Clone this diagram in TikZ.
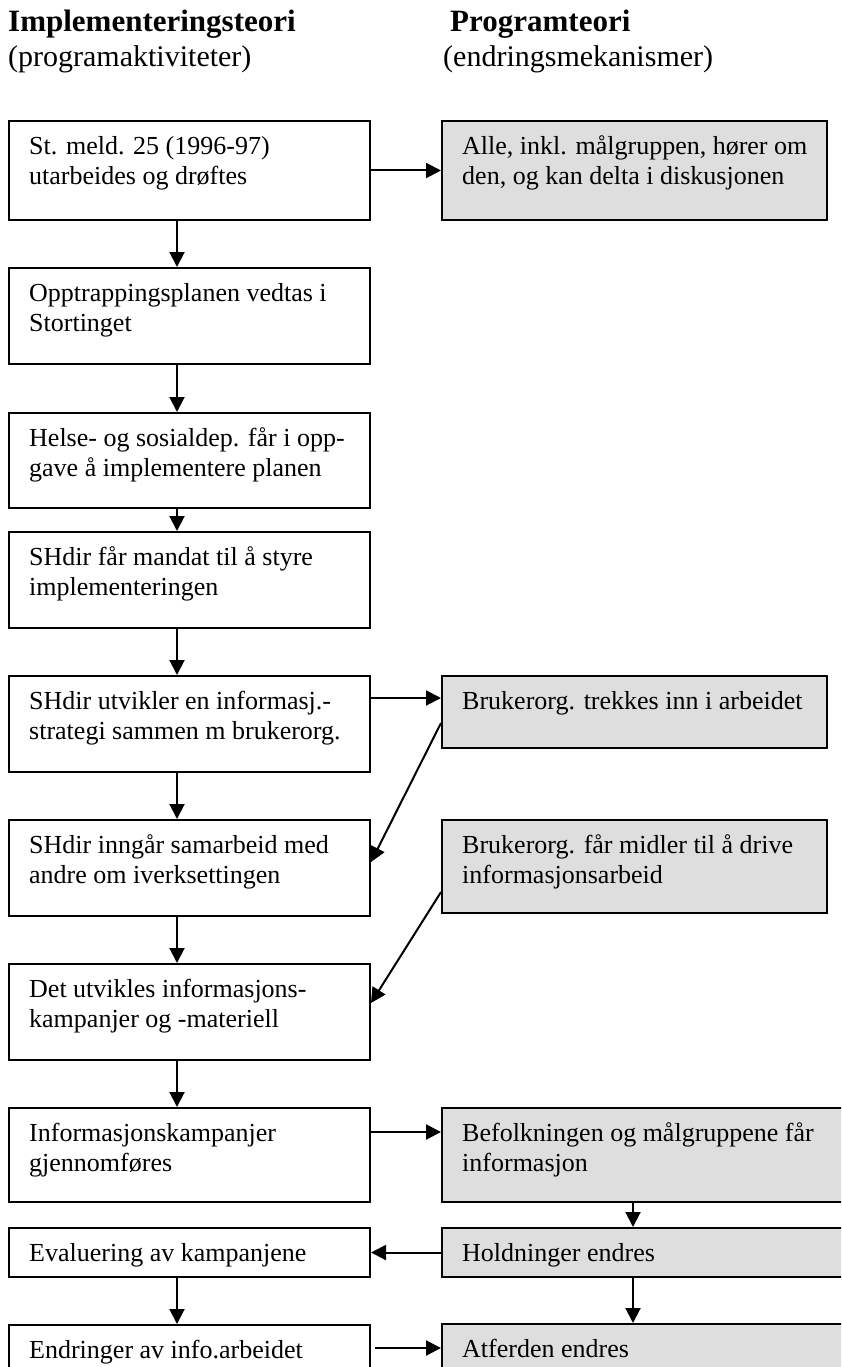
\documentclass[tikz,border=0pt]{standalone}
\usepackage{fontspec}
\setmainfont{Liberation Serif}
\usetikzlibrary{arrows.meta}
\definecolor{boxgray}{RGB}{222,222,222}
\begin{document}
\begin{tikzpicture}[x=1pt,y=-1pt,
  lbox/.style={draw=black, line width=2pt, fill=white, rectangle, anchor=north west, inner sep=0pt},
  rbox/.style={lbox, fill=boxgray},
  txt/.style={anchor=north west, inner sep=0pt, align=left, font=\fontsize{26}{30}\selectfont},
  hdr/.style={anchor=base west, inner sep=0pt, font=\fontsize{30}{34}\selectfont},
  hdrb/.style={hdr, font=\fontsize{31}{34}\selectfont\bfseries},
  arr/.style={line width=2pt, -{Triangle[length=15pt,width=15pt]}}]
\useasboundingbox (0,0) rectangle (841,1367);
\clip (0,0) rectangle (841,1367);
% headers
\node[hdrb] (h1) at (8,32) {Implementeringsteori};
\node[hdr] (h2) at (8,67) {(programaktiviteter)};
\node[hdrb] (h3) at (450,32) {Programteori};
\node[hdr] (h4) at (443,67) {(endringsmekanismer)};
% left boxes
\node[lbox, minimum width=361pt, minimum height=99pt] (b1) at (8,120) {};
\node[lbox, minimum width=361pt, minimum height=96pt] (b2) at (8,267) {};
\node[lbox, minimum width=361pt, minimum height=95pt] (b3) at (8,412) {};
\node[lbox, minimum width=361pt, minimum height=96pt] (b4) at (8,531) {};
\node[lbox, minimum width=361pt, minimum height=96pt] (b5) at (8,675) {};
\node[lbox, minimum width=361pt, minimum height=96pt] (b6) at (8,819) {};
\node[lbox, minimum width=361pt, minimum height=96pt] (b7) at (8,963) {};
\node[lbox, minimum width=361pt, minimum height=94pt] (b8) at (8,1107) {};
\node[lbox, minimum width=361pt, minimum height=49pt] (b9) at (8,1227) {};
\node[lbox, minimum width=361pt, minimum height=60pt] (b10) at (8,1324) {};
% right boxes
\node[rbox, minimum width=385pt, minimum height=99pt] (r1) at (441,120) {};
\node[rbox, minimum width=385pt, minimum height=72pt] (r2) at (441,675) {};
\node[rbox, minimum width=385pt, minimum height=93pt] (r3) at (441,819) {};
\node[rbox, minimum width=409pt, minimum height=94pt] (r4) at (441,1107) {};
\node[rbox, minimum width=409pt, minimum height=49pt] (r5) at (441,1227) {};
\node[rbox, minimum width=409pt, minimum height=60pt] (r6) at (441,1323) {};
% texts
\node[txt] (t1) at (29,133) {\strut St. meld. 25 (1996-97)\\utarbeides og drøftes};
\node[txt] (t2) at (29,280) {\strut Opptrappingsplanen vedtas i\\Stortinget};
\node[txt] (t3) at (29,425) {\strut Helse- og sosialdep. får i opp-\\gave å implementere planen};
\node[txt] (t4) at (29,544) {\strut SHdir får mandat til å styre\\implementeringen};
\node[txt] (t5) at (29,688) {\strut SHdir utvikler en informasj.-\\strategi sammen m brukerorg.};
\node[txt] (t6) at (29,832) {\strut SHdir inngår samarbeid med\\andre om iverksettingen};
\node[txt] (t7) at (29,976) {\strut Det utvikles informasjons-\\kampanjer og -materiell};
\node[txt] (t8) at (29,1120) {\strut Informasjonskampanjer\\gjennomføres};
\node[txt] (t9) at (29,1240) {\strut Evaluering av kampanjene};
\node[txt] (t10) at (29,1337) {\strut Endringer av info.arbeidet};
\node[txt] (s1) at (462,133) {\strut Alle, inkl. målgruppen, hører om\\den, og kan delta i diskusjonen};
\node[txt] (s2) at (462,688) {\strut Brukerorg. trekkes inn i arbeidet};
\node[txt] (s3) at (462,832) {\strut Brukerorg. får midler til å drive\\informasjonsarbeid};
\node[txt] (s4) at (462,1120) {\strut Befolkningen og målgruppene får\\informasjon};
\node[txt] (s5) at (462,1240) {\strut Holdninger endres};
\node[txt] (s6) at (462,1336) {\strut Atferden endres};
% helper coordinates
\coordinate (ax) at (177,0);
\coordinate (rx) at (633,0);
% vertical arrows, left column
\draw[arr] (b1.south -| ax) -- (b2.north -| ax);
\draw[arr] (b2.south -| ax) -- (b3.north -| ax);
\draw[arr] (b3.south -| ax) -- (b4.north -| ax);
\draw[arr] (b4.south -| ax) -- (b5.north -| ax);
\draw[arr] (b5.south -| ax) -- (b6.north -| ax);
\draw[arr] (b6.south -| ax) -- (b7.north -| ax);
\draw[arr] (b7.south -| ax) -- (b8.north -| ax);
\draw[arr] (b9.south -| ax) -- (b10.north -| ax);
% vertical arrows, right column
\draw[arr] (r4.south -| rx) -- (r5.north -| rx);
\draw[arr] (r5.south -| rx) -- (r6.north -| rx);
% horizontal arrows
\draw[arr] (b1.east) -- (r1.west);
\draw[arr] ([yshift=-23pt]b5.north east) -- ([yshift=-23pt]r2.north west);
\draw[arr] ([yshift=-25pt]b8.north east) -- ([yshift=-25pt]r4.north west);
\draw[arr] (r5.west) -- (b9.east);
\draw[arr] ([yshift=-24pt,xshift=4pt]b10.north east) -- ([yshift=-25pt]r6.north west);
% diagonal arrows
\draw[arr] ([yshift=-48pt]r2.north west) -- ([yshift=-43pt]b6.north east);
\draw[arr] ([yshift=-73pt]r3.north west) -- ([yshift=-40pt]b7.north east);
\end{tikzpicture}
\end{document}
